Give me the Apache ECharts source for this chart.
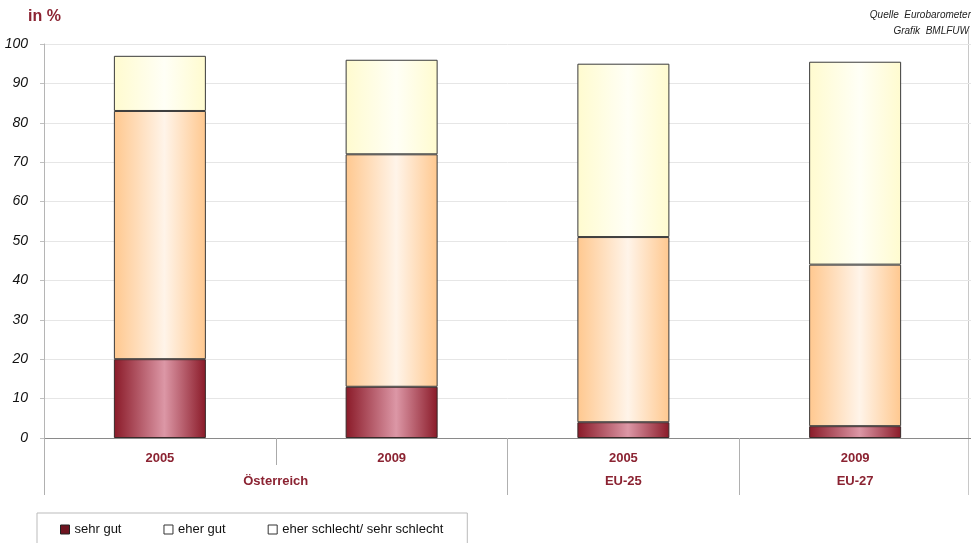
<!DOCTYPE html>
<html>
<head>
<meta charset="utf-8">
<script src="https://cdn.jsdelivr.net/npm/echarts@6/dist/echarts.min.js"></script>
<style>
html,body{margin:0;padding:0;background:#fff;}
#c{width:971px;height:543px;}
</style>
</head>
<body>
<div id="c"></div>
<script>
// ---- data ----
var categories = ['2005', '2009', '2005', '2009'];
var groupNames = ['Österreich', 'EU-25', 'EU-27'];
var groupSpans = [2, 1, 1];
var seriesNames = ['sehr gut', 'eher gut', 'eher schlecht/ sehr schlecht'];
var sehrGut = [20, 13, 4, 3];
var eherGut = [63, 59, 47, 41];
var eherSchlecht = [14, 24, 44, 51.5];
var yTicks = [0, 10, 20, 30, 40, 50, 60, 70, 80, 90, 100];

// ---- derived ----
var groupBounds = [0];
var groupCenters = [];
var acc = 0;
groupSpans.forEach(function (s) { groupCenters.push(acc + s / 2); acc += s; groupBounds.push(acc); });
var centerLabel = {};
groupCenters.forEach(function (c, i) { centerLabel[c] = groupNames[i]; });

var darkRed = '#8b2332';
function grad(edge, mid) {
  return new echarts.graphic.LinearGradient(0, 0, 1, 0, [
    { offset: 0, color: edge },
    { offset: 0.55, color: mid },
    { offset: 1, color: edge }
  ]);
}

var chart = echarts.init(document.getElementById('c'), null, { renderer: 'canvas' });
chart.setOption({
  animation: false,
  backgroundColor: '#ffffff',
  textStyle: { fontFamily: 'Liberation Sans, Arial, sans-serif' },
  grid: { left: 44, top: 44, width: 929, height: 394, containLabel: false },
  graphic: [
    { type: 'text', left: 28, top: 9, style: { text: 'in %', fill: darkRed, font: 'bold 16px Liberation Sans, Arial, sans-serif' } },
    { type: 'text', right: 0, top: 10, style: { text: 'Quelle  Eurobarometer', fill: '#222', font: 'italic 10px Liberation Sans, Arial, sans-serif', align: 'right' } },
    { type: 'text', right: 2, top: 26, style: { text: 'Grafik  BMLFUW', fill: '#222', font: 'italic 10px Liberation Sans, Arial, sans-serif', align: 'right' } },
    { type: 'line', shape: { x1: 968.5, y1: 30, x2: 968.5, y2: 495 }, style: { stroke: '#c8c8c8', lineWidth: 1 } }
  ],
  legend: {
    left: 37, top: 513, width: 436,
    padding: [10, 24, 14, 23],
    borderColor: '#bbbbbb', borderWidth: 1, backgroundColor: '#fff',
    itemWidth: 9, itemHeight: 9, itemGap: 42,
    icon: 'rect',
    textStyle: { fontSize: 13, color: '#111', fontFamily: 'Liberation Sans, Arial, sans-serif' },
    data: [
      { name: seriesNames[0], itemStyle: { color: '#6e1420', borderColor: '#222', borderWidth: 1 } },
      { name: seriesNames[1], itemStyle: { color: '#ffffff', borderColor: '#333', borderWidth: 1 } },
      { name: seriesNames[2], itemStyle: { color: '#ffffff', borderColor: '#333', borderWidth: 1 } }
    ]
  },
  xAxis: [
    {
      type: 'category', data: categories, boundaryGap: true,
      axisLine: { show: true, lineStyle: { color: '#8a8a8a', width: 1 } },
      axisTick: { show: true, length: 27, lineStyle: { color: '#aaaaaa' } },
      axisLabel: { color: darkRed, fontWeight: 'bold', fontSize: 13, margin: 14 },
      splitLine: { show: false }
    },
    {
      type: 'value', position: 'bottom', min: 0, max: 4,
      axisLine: { show: false },
      axisTick: { show: true, customValues: groupBounds, length: 57, lineStyle: { color: '#b0b0b0' } },
      axisLabel: {
        show: true, customValues: groupCenters, color: darkRed, fontWeight: 'bold', fontSize: 13, margin: 37,
        formatter: function (v) { return centerLabel[v] || ''; }
      },
      splitLine: { show: false }
    }
  ],
  yAxis: {
    type: 'value', min: 0, max: 100, interval: 10,
    axisLine: { show: true, lineStyle: { color: '#b5b5b5' } },
    axisTick: { show: true, length: 4, lineStyle: { color: '#c0c0c0' } },
    axisLabel: { color: '#111', fontStyle: 'italic', fontSize: 14, margin: 16,
      formatter: function (v) { return yTicks.indexOf(v) >= 0 ? String(v) : ''; } },
    splitLine: { show: true, lineStyle: { color: '#e6e6e6', width: 1 } }
  },
  series: [
    { name: seriesNames[0], type: 'bar', stack: 's', data: sehrGut, barWidth: 92, xAxisIndex: 0,
      itemStyle: { color: grad('#8a1a28', '#dc97a6'), borderColor: '#3a2a2a', borderWidth: 1 } },
    { name: seriesNames[1], type: 'bar', stack: 's', data: eherGut, barWidth: 92, xAxisIndex: 0,
      itemStyle: { color: grad('#ffc88f', '#fff4e9'), borderColor: '#3a3a3a', borderWidth: 1 } },
    { name: seriesNames[2], type: 'bar', stack: 's', data: eherSchlecht, barWidth: 92, xAxisIndex: 0,
      itemStyle: { color: grad('#fffbcf', '#fffff6'), borderColor: '#3a3a3a', borderWidth: 1 } }
  ]
});
</script>
</body>
</html>
